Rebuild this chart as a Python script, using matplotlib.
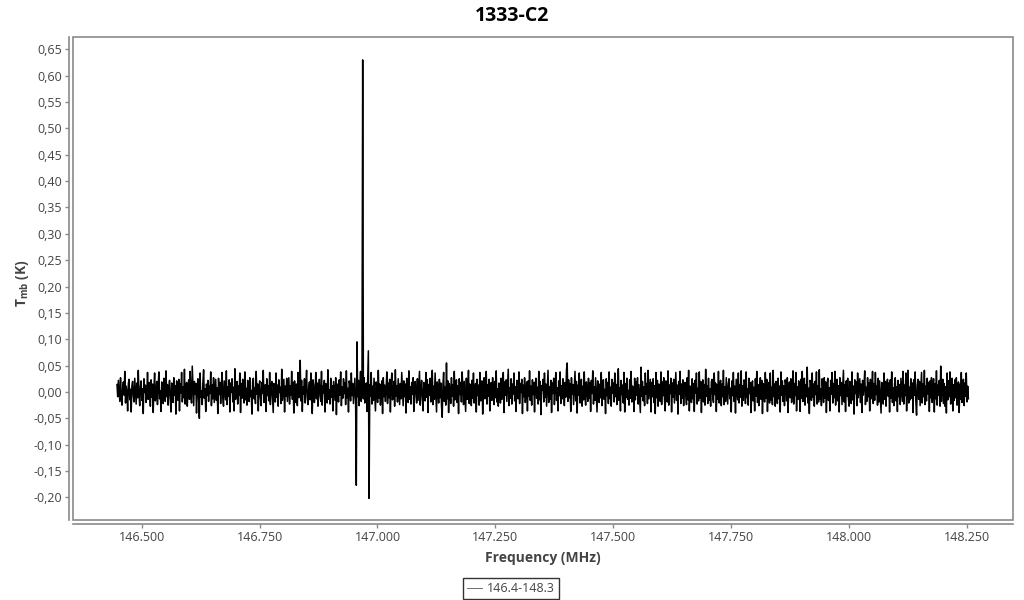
import numpy as np
import matplotlib
matplotlib.use("Agg")
import matplotlib.pyplot as plt
import matplotlib.patches as mpatches
from matplotlib.ticker import FuncFormatter, MultipleLocator

plt.rcParams["font.family"] = ["Open Sans", "DejaVu Sans"]
plt.rcParams["mathtext.fontset"] = "custom"
plt.rcParams["mathtext.rm"] = "Open Sans"
plt.rcParams["mathtext.bf"] = "Open Sans:bold"

# spectrum 1333-C2, band 146.4-148.3 MHz
title = "1333-C2"
series_name = "146.4-148.3"
freq_start = 146.4476   # MHz, first channel
freq_stop = 148.2530    # MHz, last channel

# main-beam temperature per channel, in mK
tmb_mk = [
    14, -9, 22, 3, -18, 27, -12, -25, 8, 19, -6, 39, -21, 11, -2, -36, 16, 24, -15, 5,
    -38, 12, 20, -7, -19, 26, 1, -23, 17, -11, 41, -4, -26, 9, 21, -16, 6, -41, 25, -1,
    13, -20, -8, 37, -14, 18, 4, -27, 23, -10, 15, -39, 7, 36, -17, -5, 20, -24, 11, 38,
    -13, 2, -37, 19, 10, -22, 26, -3, -18, 40, -9, 14, -25, 6, 22, -12, -38, 17, 3, -20,
    27, -6, 12, -42, 21, 8, -16, 24, -36, 15, -2, 37, -19, 10, -11, 43, -23, 4, 18, -27,
    7, 23, -14, 39, -8, -21, 49, 13, -26, 20, -4, 16, -40, 9, 25, -17, -50, 36, -10, 2,
    -24, 19, 42, -12, 6, -37, 15, -7, 22, -18, 11, -3, 38, -26, 14, -13, 27, -20, 1, 24,
    -16, 8, -41, 26, -5, 18, -22, 13, 37, -11, -27, 21, 4, -15, 40, -24, 10, -8, 23, -38,
    17, -1, 25, -19, 9, -36, 44, -14, 5, 20, -23, 12, -6, 36, -39, 16, -12, 24, -2, -21,
    38, -15, 7, -25, 22, 11, -18, 27, -9, 3, -42, 19, 26, -13, 8, -22, 39, -4, 15, -36,
    10, 21, -11, -26, 18, -3, 41, -20, 6, 14, -37, 25, -7, 12, -17, 37, -24, 2, 20, -12,
    -39, 16, 4, -19, 36, -10, 13, -27, 23, -1, 9, -22, 43, -16, 5, 24, -38, 11, -8, 26,
    -18, 3, 27, -23, 12, -6, 39, -14, 18, -40, 21, 8, -20, 15, -26, 37, -11, 6, 60, -17,
    22, -37, 10, -4, 25, -21, 14, 41, -12, -24, 7, 19, -15, 36, -9, -41, 23, 13, -20, 1,
    37, -13, 17, -27, 6, 24, -8, -18, 39, -25, 11, -2, 22, -38, 16, 9, -21, 42, -14, 4,
    -23, 26, -10, 12, -36, 20, 2, -16, 27, -43, 15, 8, -19, 23, -6, 38, -26, 10, -12, 25,
    -3, 18, -24, 40, -11, 7, -38, 21, 13, -17, 36, -7, 16, -22, 4, 26, -15, -177, 95, -9,
    22, -26, 12, 39, -18, 5, 630, -13, 27, -21, 9, 17, -37, 24, 78, -202, 14, -8, 37, -23,
    11, -16, 26, -3, -36, 19, 8, -20, 41, -12, 15, -25, 4, 21, -41, 27, -9, 13, -18, 6,
    38, -22, 17, -11, 24, -38, 9, 36, -15, -5, 20, -27, 42, -8, 12, -19, 25, -1, -24, 16,
    -13, 37, 3, -26, 21, -9, 15, -40, 26, 7, -20, 40, -14, 10, -23, 18, -4, 27, -37, 11,
    20, -7, -21, 25, -16, 13, 39, -25, 5, 22, -12, -36, 18, 2, -17, 37, -10, 23, -39, 14,
    -6, 26, -19, 8, 41, -24, 11, -14, 36, -3, -38, 19, 6, -21, 24, -11, 17, -26, -48, 13,
    37, -18, 9, -25, 55, -13, 21, -39, 16, 4, -22, 27, -8, 14, -27, 39, -15, 7, 23, -20,
    12, -41, 25, -5, 18, -19, 38, 10, -24, 20, -9, -37, 26, -14, 8, 41, -22, 15, -2, -26,
    22, -12, 36, -21, 3, 16, -38, 24, -7, 13, -25, 37, -17, 5, 21, -42, 10, 27, -13, -4,
    39, -23, 14, -8, 24, -36, 11, 18, -16, 27, -2, -24, 20, -11, 40, -19, 6, -27, 17, 9,
    -21, 26, -14, 2, 37, -39, 19, -6, 23, -18, 12, 43, -26, 8, -12, 25, -23, 15, -4, 36,
    -17, 10, -37, 22, 7, -13, 38, -22, 16, -1, 24, -41, 13, -9, 27, -20, 4, 19, -36, 21,
    -8, 40, -16, 11, -25, 23, -5, 18, -38, 14, 26, -12, 9, -23, 39, -15, 20, -43, 12, 3,
    24, -19, 36, -10, 15, -27, 6, 41, -20, 10, -14, 22, -39, 17, -3, 26, -24, 13, 37, -16,
    8, -36, 21, -7, 38, -22, 12, -13, 25, 2, -26, 18, -10, 42, 55, -18, 23, -11, 16, -37,
    27, -4, 14, -24, 9, 39, -17, 20, -40, 13, -6, 36, -21, 7, 24, -27, 11, -15, 38, -9,
    -25, 19, 4, -18, 26, -12, 17, -37, 22, -3, 40, -23, 10, -16, 27, -8, -38, 21, 6, -20,
    15, -11, 37, -26, 12, 23, -14, 5, -41, 25, -7, 18, -22, 38, -13, 9, -27, 24, -2, 17,
    -19, 36, -9, 14, -24, 20, 44, -16, 8, -36, 22, -5, 13, -21, 37, -38, 16, -10, 26, -14,
    3, -25, 23, -12, 39, -19, 11, 7, -37, 26, -15, 19, -6, 27, -23, 14, -11, -39, 47, -8,
    20, -17, 10, -26, 36, -4, 16, -22, 41, -13, 6, 24, -38, 18, -9, 25, -20, 12, -41, 37,
    -11, 22, -27, 15, 5, -18, 38, -24, 19, -7, 27, -14, -36, 21, 9, -19, 40, -25, 13, -3,
    26, -38, 17, -10, 24, -21, 8, 37, -16, 13, -42, 20, -4, 39, -22, 15, -12, 23, -26, 10,
    18, -6, -24, 27, -15, 41, -36, 11, 4, -20, 25, -13, 16, -37, 22, -2, 36, -23, 7, -17,
    38, -12, 20, -39, 9, 23, -19, 14, -25, 43, -8, 12, -22, 26, -16, 6, -27, 19, 24, -11,
    -20, 36, -5, 17, -37, 13, -14, 39, -21, 8, 22, -26, 15, -9, 41, -24, 10, -18, 27, 1,
    -23, 16, 25, -13, 7, -38, 21, -7, 37, -18, 11, -40, 24, 3, -15, 36, -21, 14, -10, 40,
    -27, 12, -16, 23, 19, -22, 38, -11, 6, -25, 26, -3, 18, -39, 13, 21, -17, 9, -36, 25,
    -8, 39, -20, 14, -26, 4, 27, -14, 22, -41, 16, 10, -19, 37, -12, 24, -37, 7, 18, -21,
    36, -15, 9, -24, 41, -9, 15, -27, 20, 2, -22, 26, -13, 11, -38, 38, -6, 21, -18, 12,
    -26, 23, 13, -17, 27, -39, 8, 19, -11, 25, -20, 5, 40, -23, 16, -7, 37, -36, 10, -14,
    21, -2, -37, 24, -12, 39, -18, 11, 26, -25, 14, -9, 47, -21, 7, -41, 22, 17, -16, 36,
    -10, 15, -27, 20, -5, 38, -23, 12, -19, 42, -14, 6, -26, 25, 9, -20, 27, -12, 19, -39,
    13, 26, -16, 8, -36, 22, -4, 37, -21, 16, -11, 39, -25, 3, 24, -17, 12, -38, 27, -7,
    18, -24, 10, 41, -19, 14, -37, 21, -8, 26, -13, -27, 20, 5, -22, 38, -15, 11, -42, 23,
    -3, 19, -26, 36, -11, 7, 25, -20, 15, -39, 22, -6, 13, 40, -24, 9, -18, 27, -9, 17,
    -36, 24, -13, 6, 39, -22, 16, -16, 37, -5, 11, -25, 26, -19, 21, -10, -40, 18, 4, -23,
    36, -14, 20, -27, 12, 24, -8, 17, -38, 23, -12, 38, -20, 8, -26, 15, 27, -17, 10, -37,
    22, -9, 14, -24, 26, 3, -18, 39, -23, 13, -7, 36, -36, 19, 41, -21, 9, -15, 25, -12,
    17, -39, 23, -6, 38, -19, -44, 12, 24, -14, 20, -26, 7, 37, -21, 15, -9, 41, -24, 11,
    -17, 26, -4, 18, -37, 21, -11, 27, -20, 8, 25, -38, 16, -13, 40, -25, 13, -6, 22, -27,
    49, -18, 12, 24, -22, 16, -27, 10, -40, 36, -15, 21, -9, 38, -23, 6, 26, -36, 14, -16,
    23, -11, 27, -25, 9, 19, -39, 15, -14, 37, -20, 4, 24, -26, 17, -8, 36, -19, 11, -13,
]

tmb = np.array(tmb_mk) / 1000.0
freq = np.linspace(freq_start, freq_stop, len(tmb))

GRAY = "#8a8a8a"
TXT = "#444444"

fig = plt.figure(figsize=(10.24, 6.0), dpi=100)
ax = fig.add_axes([0.0716, 0.1333, 0.9174, 0.8055])

ax.plot(freq, tmb, color="black", linewidth=1.1, label=series_name)

ax.set_xlim(146.355, 148.347)
ax.set_ylim(-0.243, 0.674)

ax.xaxis.set_major_locator(MultipleLocator(0.25))
ax.yaxis.set_major_locator(MultipleLocator(0.05))
ax.xaxis.set_major_formatter(FuncFormatter(lambda v, p: f"{v:.3f}"))
ax.yaxis.set_major_formatter(FuncFormatter(lambda v, p: f"{v:.2f}".replace(".", ",").replace("-0,00", "0,00")))

# box around the plot area + offset axis lines
for s in ["top", "right"]:
    ax.spines[s].set_visible(False)
for s in ["left", "bottom"]:
    ax.spines[s].set_position(("outward", 3))
    ax.spines[s].set_color(GRAY)
    ax.spines[s].set_linewidth(1.2)
ax.add_patch(mpatches.Rectangle((0, 0), 1, 1, transform=ax.transAxes, fill=False,
                                edgecolor=GRAY, linewidth=1.2, clip_on=False))

ax.tick_params(axis="both", colors=GRAY, labelcolor=TXT, labelsize=9, length=3, width=1, pad=2)
ax.tick_params(axis="x", pad=2)

ax.set_xlabel("Frequency (MHz)", fontsize=10, fontweight="bold", color=TXT)
ax.xaxis.set_label_coords(0.5, -0.0786)
ax.xaxis.label.set_va("center")
ax.set_ylabel(r"T$_{\mathbf{mb}}$ (K)", fontsize=10, fontweight="bold", color=TXT)
ax.yaxis.set_label_coords(-0.0546, 0.49)
ax.yaxis.label.set_va("center")

fig.suptitle(title, x=0.5, y=0.973, va="center", fontsize=14, fontweight="bold", color="black")

leg = fig.legend(loc="center", bbox_to_anchor=(0.499, 0.019), fontsize=9, frameon=True,
                 fancybox=False, handlelength=1.2, handletextpad=0.4, borderpad=0.3,
                 labelcolor=TXT)
leg.get_frame().set_edgecolor("black")
leg.get_frame().set_linewidth(1.0)
for h in leg.get_lines():
    h.set_linewidth(0.6)
    h.set_color("#555555")

fig.savefig("out.png", dpi=100)
